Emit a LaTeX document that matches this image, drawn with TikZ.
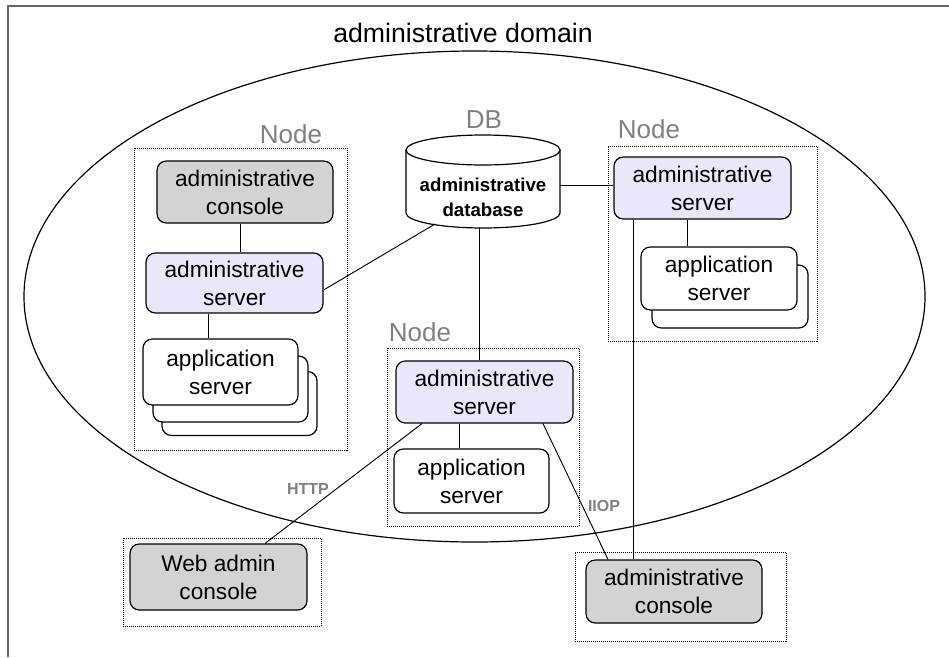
\documentclass[tikz,border=0pt]{standalone}
\usepackage{fontspec}
\setmainfont{Liberation Sans}
\usetikzlibrary{shapes.geometric}
\definecolor{boxgray}{RGB}{211,211,211}
\definecolor{boxblue}{RGB}{232,232,250}
\definecolor{lblgray}{RGB}{128,128,128}
\newcommand\myboxfont{\fontsize{17}{21}\selectfont}
\newcommand\mytitlefont{\fontsize{20}{24}\selectfont}
\newcommand\mylblfont{\fontsize{19.5}{23}\selectfont}
\newcommand\mydbfont{\fontsize{14}{19}\selectfont\bfseries}
\newcommand\myprotofont{\fontsize{12}{14}\selectfont\bfseries}
\begin{document}
\begin{tikzpicture}[x=0.75pt,y=-0.75pt,
  box/.style={draw, line width=0.9pt, rounded corners=7pt, align=center, inner sep=0pt, font=\myboxfont},
  consbox/.style={box, fill=boxgray},
  srvbox/.style={box, fill=boxblue},
  appbox/.style={box, fill=white},
  grp/.style={draw, line width=0.7pt, dash pattern=on 0.75pt off 0.75pt, inner sep=0pt},
  lbl/.style={text=lblgray, font=\mylblfont, inner sep=0pt},
  proto/.style={text=lblgray, font=\myprotofont, inner sep=0pt},
  conn/.style={line width=0.7pt},
  frame/.style={draw=black!60, line width=1pt}]
\useasboundingbox (0,0) rectangle (949,657);
\draw[frame] (8,657) -- (8,6) -- (949,6);

% domain
\node[draw, ellipse, line width=0.9pt, inner sep=0pt, minimum width=675.75pt, minimum height=368.25pt] (dom) at (474.5,296.5) {};
\node[font=\mytitlefont, inner sep=0pt] (title) at (463,33) {administrative domain};

% groups
\node[grp, minimum width=159.75pt, minimum height=226.5pt] (lnode) at (240.5,299) {};
\node[lbl] (lnodelbl) at (291,134) {Node};
\node[grp, minimum width=156.75pt, minimum height=146.25pt] (rnode) at (712.5,243.5) {};
\node[lbl] (rnodelbl) at (649,129) {Node};
\node[grp, minimum width=144pt, minimum height=133.5pt] (mnode) at (483,437) {};
\node[lbl] (mnodelbl) at (420,332) {Node};
\node[grp, minimum width=148.5pt, minimum height=66pt] (wnode) at (222,582) {};
\node[grp, minimum width=158.25pt, minimum height=66.75pt] (cnode) at (680.5,596.5) {};

% DB
\node[lbl] (dblbl) at (484,120) {DB};
\draw[line width=0.9pt, fill=white] (406,150) -- (406,213) arc[start angle=180, end angle=0, x radius=77, y radius=15] -- (560,150) -- cycle;
\draw[line width=0.9pt, fill=white] (483,150) ellipse[x radius=77, y radius=15];
\node[font=\mydbfont, align=center, inner sep=0pt] (db) at (483,197) {administrative\\database};
\coordinate (dbL) at (435,224);
\coordinate (dbR) at (560,185);
\coordinate (dbB) at (479,228);

% left node
\node[consbox, minimum width=132pt, minimum height=46.5pt] (lcon) at (245,192) {administrative\\console};
\node[srvbox, minimum width=132.75pt, minimum height=45pt] (lsrv) at (234.5,283) {administrative\\server};
\node[appbox, minimum width=116.25pt, minimum height=48pt] (lapp3) at (239.5,403.5) {};
\node[appbox, minimum width=116.25pt, minimum height=49.5pt] (lapp2) at (230.5,389) {};
\node[appbox, minimum width=116.25pt, minimum height=49.5pt] (lapp) at (220.5,372) {application\\server};

% right node
\node[srvbox, minimum width=132.75pt, minimum height=46.5pt] (rsrv) at (702.5,188) {administrative\\server};
\node[appbox, minimum width=117pt, minimum height=47.25pt] (rapp2) at (730,296.5) {};
\node[appbox, minimum width=117pt, minimum height=47.25pt] (rapp) at (719,278.5) {application\\server};

% middle node
\node[srvbox, minimum width=132.75pt, minimum height=46.5pt] (msrv) at (484.5,392) {administrative\\server};
\node[appbox, minimum width=116.25pt, minimum height=48pt] (mapp) at (471.5,481) {application\\server};

% consoles
\node[consbox, minimum width=132.75pt, minimum height=49.5pt] (wadm) at (218.5,577) {Web admin\\console};
\node[consbox, minimum width=132pt, minimum height=47.25pt] (rcon) at (674,591.5) {administrative\\console};

% connectors
\draw[conn] (lcon.south -| 240,0) -- (lsrv.north -| 240,0);
\draw[conn] (lsrv.south -| 208,0) -- (lapp.north -| 208,0);
\draw[conn] (dbL) -- (lsrv.east |- 0,290);
\draw[conn] (dbR) -- (rsrv.west |- 0,185);
\draw[conn] (dbB) -- (msrv.north -| 479,0);
\draw[conn] (rsrv.south -| 687,0) -- (rapp.north -| 687,0);
\draw[conn] (rsrv.south -| 633,0) -- (rcon.north -| 633,0);
\draw[conn] (msrv.south -| 459,0) -- (mapp.north -| 459,0);
\draw[conn] (msrv.south -| 422,0) -- (wadm.north -| 265,0);
\draw[conn] (msrv.south -| 543,0) -- (rcon.north -| 608,0);

\node[proto] (http) at (308,489) {HTTP};
\node[proto] (iiop) at (604,506) {IIOP};
\end{tikzpicture}
\end{document}
